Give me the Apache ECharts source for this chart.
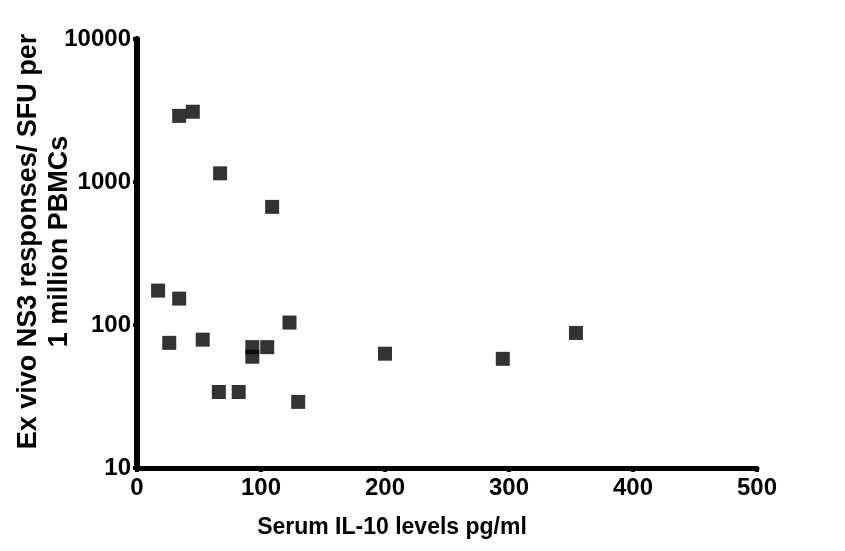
<!DOCTYPE html>
<html>
<head>
    <meta charset="UTF-8">
    <title>IL-10 vs NS3 responses</title>
    <script src="https://cdn.jsdelivr.net/npm/echarts@6/dist/echarts.min.js"></script>
    <style>
        html, body { margin: 0; padding: 0; background: #fff; }
        #main { width: 845px; height: 551px; }
    </style>
</head>
<body>
<div id="main"></div>
<script type="text/javascript">
    // data
    var il10 = [34, 45, 67, 109, 17, 34, 123, 26, 53, 93, 93, 105, 200, 295, 354, 66, 82, 130];
    var ns3 = [2900, 3100, 1150, 670, 174, 153, 104, 75, 79, 70, 60, 70, 63, 58, 88, 34, 34, 29];
    var xTicks = [0, 100, 200, 300, 400, 500];
    var yTicks = [10, 100, 1000, 10000];

    var points = [];
    for (var i = 0; i < il10.length; i++) {
        points.push([il10[i], ns3[i]]);
    }

    var myChart = echarts.init(document.getElementById('main'));
    var labelFont = {
        color: '#000',
        fontFamily: 'Liberation Sans, Arial, sans-serif',
        fontWeight: 'bold',
        fontSize: 24
    };
    var option = {
        backgroundColor: '#fff',
        animation: false,
        grid: {
            left: 137,
            right: 88,
            top: 39,
            bottom: 83,
            containLabel: false,
            outerBoundsMode: 'none'
        },
        xAxis: {
            type: 'value',
            min: xTicks[0],
            max: xTicks[xTicks.length - 1],
            interval: 100,
            name: 'Serum IL-10 levels pg/ml',
            nameLocation: 'middle',
            nameGap: 48,
            nameMoveOverlap: false,
            nameTextStyle: {
                color: '#000',
                fontFamily: 'Liberation Sans, Arial, sans-serif',
                fontWeight: 'bold',
                fontSize: 23,
                padding: [0, 110, 0, 0]
            },
            splitLine: {show: false},
            axisLine: {lineStyle: {color: '#000', width: 5}},
            axisTick: {show: true, length: 4, lineStyle: {color: '#000', width: 4}},
            axisLabel: Object.assign({margin: 8}, labelFont)
        },
        yAxis: {
            type: 'log',
            logBase: 10,
            min: yTicks[0],
            max: yTicks[yTicks.length - 1],
            name: 'Ex vivo NS3 responses/ SFU per\n1 million PBMCs',
            nameLocation: 'middle',
            nameGap: 62,
            nameMoveOverlap: false,
            nameTextStyle: {
                color: '#000',
                fontFamily: 'Liberation Sans, Arial, sans-serif',
                fontWeight: 'bold',
                fontSize: 27,
                lineHeight: 31,
                padding: [0, 0, 0, 24]
            },
            splitLine: {show: false},
            minorTick: {show: false},
            axisLine: {show: true, lineStyle: {color: '#000', width: 6}},
            axisTick: {show: true, length: 4, lineStyle: {color: '#000', width: 4}},
            axisLabel: Object.assign({
                margin: 6,
                formatter: function (value) {
                    return String(Math.round(value));
                }
            }, labelFont)
        },
        series: [
            {
                name: 'NS3',
                type: 'scatter',
                symbol: 'rect',
                symbolSize: 14,
                itemStyle: {color: '#000'},
                data: points
            }
        ]
    };
    myChart.setOption(option);
</script>
</body>
</html>
